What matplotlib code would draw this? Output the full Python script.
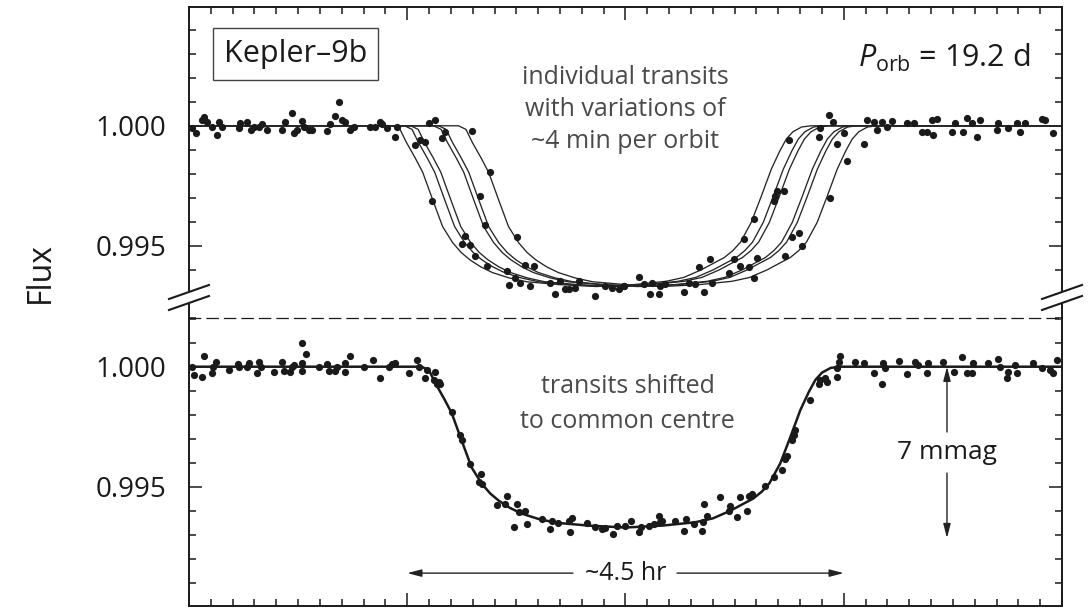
import matplotlib.pyplot as plt
import numpy as np
from matplotlib.ticker import MultipleLocator, FixedLocator, FormatStrFormatter
from matplotlib.patches import Polygon
from matplotlib.lines import Line2D

plt.rcParams['font.family'] = ['Open Sans', 'DejaVu Sans']
plt.rcParams['mathtext.fontset'] = 'custom'
plt.rcParams['mathtext.rm'] = 'Open Sans'
plt.rcParams['mathtext.it'] = 'Open Sans:italic'

# transit model, time from mid-transit in days
fit_x = [-0.25, -0.0934, -0.0900, -0.0871, -0.0830, -0.0796, -0.0751, -0.0705, -0.0659,
         -0.0620, -0.0581, -0.0530, -0.0476, -0.0400, -0.0320, -0.0169, 0.0, 0.0169,
         0.0320, 0.0400, 0.0481, 0.0530, 0.0586, 0.0625, 0.0660, 0.0709, 0.0755,
         0.0801, 0.0840, 0.0870, 0.0900, 0.0940, 0.0984, 0.25]
fit_flux = [1.0, 1.0, 0.99985, 0.99931, 0.99865, 0.99806, 0.99693, 0.99580, 0.99513,
            0.99472, 0.99442, 0.99412, 0.99388, 0.99366, 0.99350, 0.99338, 0.99330, 0.99338,
            0.99352, 0.99368, 0.99400, 0.99424, 0.99451, 0.99480, 0.99515, 0.99597, 0.99706,
            0.99819, 0.99895, 0.99945, 0.99975, 0.99995, 1.0, 1.0]

# timing offsets of the individual transits (d)
transit_shifts = [-0.0133, -0.0078, -0.0050, 0.0055, 0.0078, 0.0169]

# individual transits, unshifted
top_x = [-0.1985, -0.1970, -0.1939, -0.1931, -0.1916, -0.1893, -0.1870, -0.1863, -0.1847,
         -0.1771, -0.1764, -0.1733, -0.1718, -0.1703, -0.1680, -0.1664, -0.1641, -0.1573,
         -0.1558, -0.1527, -0.1519, -0.1504, -0.1481, -0.1474, -0.1451, -0.1436, -0.1367,
         -0.1352, -0.1329, -0.1314, -0.1298, -0.1283, -0.1260, -0.1245, -0.1169, -0.1146,
         -0.1123, -0.1115, -0.1092, -0.1054, -0.1047, -0.0963, -0.0940, -0.0917, -0.0902,
         -0.0886, -0.0871, -0.0840, -0.0825, -0.0749, -0.0734, -0.0711, -0.0703, -0.0688,
         -0.0665, -0.0642, -0.0635, -0.0619, -0.0543, -0.0535, -0.0505, -0.0497, -0.0482,
         -0.0459, -0.0436, -0.0421, -0.0345, -0.0322, -0.0299, -0.0276, -0.0261, -0.0230,
         -0.0215, -0.0139, -0.0093, -0.0063, -0.0032, -0.0009,
         -0.0008, 0.0061, 0.0084, 0.0114, 0.0122, 0.0153, 0.0160, 0.0183, 0.0267, 0.0290,
         0.0320, 0.0336, 0.0359, 0.0389, 0.0397, 0.0473, 0.0496, 0.0526, 0.0542, 0.0564,
         0.0587, 0.0587, 0.0603, 0.0679, 0.0686, 0.0694, 0.0725, 0.0732, 0.0748, 0.0763,
         0.0793, 0.0809, 0.0885, 0.0892, 0.0931, 0.0938, 0.0953, 0.0969, 0.0999, 0.1014,
         0.1091, 0.1106, 0.1137, 0.1152, 0.1175, 0.1198, 0.1220, 0.1289, 0.1320, 0.1358,
         0.1381, 0.1404, 0.1411, 0.1426, 0.1495, 0.1510, 0.1548, 0.1564, 0.1587, 0.1609,
         0.1625, 0.1701, 0.1709, 0.1754, 0.1793, 0.1808, 0.1831, 0.1907, 0.1922, 0.1960]
top_flux = [0.99989, 0.99968, 1.00024, 1.00038, 1.00017, 0.99996, 0.99960, 1.00014, 0.99993,
            0.99989, 1.00010, 1.00017, 0.99982, 0.99993, 0.99993, 1.00007, 0.99984, 0.99984,
            1.00014, 1.00052, 0.99970, 0.99984, 1.00021, 0.99996, 0.99982, 0.99982, 0.99979,
            1.00007, 1.00041, 1.00099, 1.00024, 1.00017, 0.99982, 0.99996, 0.99993, 0.99996,
            1.00014, 1.00006, 0.99989, 0.99953, 0.99996, 0.99918, 0.99942, 0.99932, 1.00010,
            0.99685, 1.00024, 0.99949, 0.99975, 0.99508, 0.99541, 0.99504, 0.99979, 0.99456,
            0.99706, 0.99586, 0.99417, 0.99808, 0.99393, 0.99335, 0.99367, 0.99537, 0.99346,
            0.99419, 0.99332, 0.99414, 0.99346, 0.99297, 0.99353, 0.99318, 0.99318, 0.99325,
            0.99353, 0.99292, 0.99332, 0.99325, 0.99321, 0.99332,
            0.99332, 0.99370, 0.99339, 0.99297, 0.99346, 0.99297, 0.99332, 0.99339, 0.99306, 0.99346,
            0.99339, 0.99412, 0.99306, 0.99445, 0.99346, 0.99388, 0.99445, 0.99417, 0.99530, 0.99410,
            0.99367, 0.99610, 0.99448, 0.99685, 0.99706, 0.99727, 0.99730, 0.99459, 0.99939, 0.99537,
            0.99555, 0.99497, 0.99953, 0.99989, 1.00045, 0.99699, 1.00014, 0.99925, 0.99968, 0.99855,
            0.99925, 1.00024, 1.00017, 0.99982, 1.00017, 0.99996, 1.00021, 1.00010, 1.00010, 0.99975,
            0.99975, 1.00024, 0.99960, 1.00027, 0.99975, 1.00010, 0.99975, 1.00031, 1.00010, 0.99953,
            1.00024, 0.99982, 1.00010, 0.99989, 1.00010, 0.99975, 1.00010, 1.00027, 1.00024, 0.99968]

# same transits shifted to a common centre
bottom_x = [-0.1985, -0.1977, -0.1939, -0.1931, -0.1893, -0.1890, -0.1878, -0.1817, -0.1774,
            -0.1771, -0.1733, -0.1725, -0.1687, -0.1680, -0.1672, -0.1611, -0.1573, -0.1565,
            -0.1535, -0.1527, -0.1519, -0.1481, -0.1466, -0.1481, -0.1481, -0.1405, -0.1367,
            -0.1359, -0.1329, -0.1321, -0.1283, -0.1283, -0.1260, -0.1199, -0.1158, -0.1123,
            -0.1085, -0.1069, -0.1054, -0.0993, -0.0955, -0.0947, -0.0917, -0.0909, -0.0879,
            -0.0871, -0.0863, -0.0856, -0.0848, -0.0795, -0.0757, -0.0749, -0.0711, -0.0673,
            -0.0661, -0.0658, -0.0589, -0.0551, -0.0543, -0.0497, -0.0490, -0.0459, -0.0452,
            -0.0513, -0.0383, -0.0345, -0.0337, -0.0307, -0.0261, -0.0253, -0.0246, -0.0177,
            -0.0139, -0.0108, -0.0093, -0.0055, -0.0040, -0.0002,
            0.0023, 0.0061, 0.0069, 0.0107, 0.0130, 0.0153, 0.0160, 0.0168, 0.0229, 0.0267,
            0.0275, 0.0313, 0.0351, 0.0355, 0.0359, 0.0374, 0.0435, 0.0473, 0.0481, 0.0511,
            0.0526, 0.0557, 0.0564, 0.0580, 0.0641, 0.0679, 0.0717, 0.0732, 0.0740, 0.0763,
            0.0770, 0.0778, 0.0847, 0.0885, 0.0892, 0.0915, 0.0923, 0.0969, 0.0969, 0.0976,
            0.0984, 0.1053, 0.1091, 0.1137, 0.1175, 0.1182, 0.1190, 0.1251, 0.1289, 0.1327,
            0.1342, 0.1381, 0.1388, 0.1457, 0.1503, 0.1541, 0.1564, 0.1587, 0.1594, 0.1663,
            0.1709, 0.1716, 0.1747, 0.1754, 0.1785, 0.1793, 0.1869, 0.1907, 0.1945, 0.1960, 0.1976]
bottom_flux = [0.99997, 0.99965, 0.99958, 1.00045, 0.99972, 1.00000, 1.00021, 0.99986, 1.00011,
               0.99997, 0.99997, 1.00014, 0.99972, 1.00018, 1.00000, 0.99979, 1.00021, 0.99983,
               0.99979, 1.00000, 1.00007, 1.00100, 1.00053, 1.00014, 0.99983, 1.00000, 1.00011,
               0.99983, 0.99983, 0.99997, 0.99979, 1.00014, 1.00045, 0.99997, 1.00028, 0.99955,
               0.99997, 1.00011, 1.00014, 0.99975, 1.00028, 0.99997, 0.99954, 0.99986, 0.99944,
               0.99979, 0.99930, 0.99937, 0.99930, 0.99812, 0.99714, 0.99693, 0.99596, 0.99519,
               0.99551, 0.99512, 0.99425, 0.99428, 0.99463, 0.99428, 0.99393, 0.99400, 0.99344,
               0.99331, 0.99365, 0.99324, 0.99356, 0.99347, 0.99356, 0.99310, 0.99370, 0.99347,
               0.99331, 0.99324, 0.99328, 0.99305, 0.99338, 0.99338,
               0.99356, 0.99310, 0.99331, 0.99338, 0.99344, 0.99379, 0.99351, 0.99358, 0.99356, 0.99317,
               0.99365, 0.99344, 0.99317, 0.99351, 0.99428, 0.99379, 0.99456, 0.99400, 0.99421, 0.99372,
               0.99456, 0.99400, 0.99463, 0.99470, 0.99505, 0.99540, 0.99568, 0.99616, 0.99630, 0.99693,
               0.99714, 0.99735, 0.99861, 0.99930, 0.99944, 0.99951, 0.99937, 0.99958, 0.99993, 1.00021,
               1.00045, 1.00021, 1.00014, 0.99972, 0.99930, 1.00014, 0.99993, 1.00025, 0.99969, 1.00021,
               1.00007, 0.99972, 1.00014, 1.00021, 0.99979, 1.00042, 0.99972, 0.99972, 1.00014, 1.00014,
               1.00031, 1.00000, 0.99951, 0.99979, 1.00007, 0.99972, 1.00014, 0.99993, 0.99986, 0.99972, 1.00028]

top_note = ['individual transits', 'with variations of', '~4 min per orbit']
top_note_y = [1.00174, 1.00040, 0.99907]
bottom_note = ['transits shifted', 'to common centre']
bottom_note_y = [0.99890, 0.99744]

ink = '#1a1a1a'
grey_txt = '#4a4a4a'

fig = plt.figure(figsize=(10.88, 6.08), dpi=100)
ax1 = fig.add_axes([0.1737, 0.4770, 0.8024, 0.5115])
ax2 = fig.add_axes([0.1737, 0.0033, 0.8024, 0.4737])

for dt in transit_shifts:
    ax1.plot(np.array(fit_x) + dt, fit_flux, color='#262626', lw=0.95)
ax1.plot(top_x, top_flux, 'o', color=ink, ms=5.2, mew=0)

ax2.plot(fit_x, fit_flux, color=ink, lw=1.8)
ax2.plot(bottom_x, bottom_flux, 'o', color=ink, ms=5.2, mew=0)

for ax in (ax1, ax2):
    ax.set_xlim(-0.2, 0.2)
    ax.xaxis.set_major_locator(MultipleLocator(0.1))
    ax.xaxis.set_minor_locator(MultipleLocator(0.01))
    ax.yaxis.set_major_locator(FixedLocator([0.995, 1.000]))
    ax.yaxis.set_minor_locator(MultipleLocator(0.001))
    ax.yaxis.set_major_formatter(FormatStrFormatter('%.3f'))
    ax.tick_params(which='both', direction='in', right=True, width=1.1,
                   labelsize=20, pad=16.5, colors=ink)
    ax.tick_params(which='major', length=9.5)
    ax.tick_params(which='minor', length=5)
    for s in ax.spines.values():
        s.set_linewidth(1.4)
        s.set_color(ink)

ax1.set_ylim(0.99199, 1.00495)
ax1.tick_params(axis='x', which='both', top=True, bottom=False, labelbottom=False)
ax1.spines['bottom'].set_visible(False)

ax2.set_ylim(0.99003, 1.00203)
ax2.tick_params(axis='x', which='both', top=False, bottom=True, labelbottom=False)
ax2.spines['top'].set_linestyle((0, (9, 5)))
ax2.spines['top'].set_linewidth(0.9)

# axis break marks on both sides
for xs in (0.0, 1.0):
    dx, dy = 0.0229, 0.0225
    y_hi, y_lo = 0.0836, 0.0482
    gap = Polygon([(xs - dx, y_hi - dy), (xs + dx, y_hi + dy),
                   (xs + dx, y_lo + dy), (xs - dx, y_lo - dy)],
                  closed=True, transform=ax1.transAxes, facecolor='white',
                  edgecolor='none', clip_on=False, zorder=5)
    ax1.add_patch(gap)
    for yc in (y_hi, y_lo):
        ax1.add_line(Line2D([xs - dx, xs + dx], [yc - dy, yc + dy], transform=ax1.transAxes,
                            color=ink, lw=1.5, clip_on=False, zorder=6))

# labels
fig.text(0.0372, 0.551, 'Flux', rotation=90, ha='center', va='center', fontsize=23, color=ink)

ax1.text(-0.1512, 1.00299, 'Kepler\u20139b', ha='center', va='center', fontsize=22, color=ink,
         bbox=dict(boxstyle='square,pad=0.36', facecolor='white', edgecolor='#444444', lw=1.0))
ax1.text(0.1853, 1.00282, r'$P_{\mathrm{orb}}$ = 19.2 d', ha='right', va='center',
         fontsize=22, color=ink)
for line, y in zip(top_note, top_note_y):
    ax1.text(0.0, y, line, ha='center', va='baseline', fontsize=18, color=grey_txt)
for line, y in zip(bottom_note, bottom_note_y):
    ax2.text(0.001, y, line, ha='center', va='baseline', fontsize=18, color=grey_txt)

# depth arrow
arrow = dict(arrowstyle='-|>,head_length=0.85,head_width=0.22', color='#222222', lw=1.0,
             shrinkA=0, shrinkB=0)
ax2.text(0.1473, 0.99644, '7 mmag', ha='center', va='center', fontsize=19, color=ink)
ax2.annotate('', xy=(0.1473, 1.000), xytext=(0.1473, 0.99728), arrowprops=arrow)
ax2.annotate('', xy=(0.1473, 0.99286), xytext=(0.1473, 0.99557), arrowprops=arrow)

# duration arrow
ax2.text(0.0, 0.99140, '~4.5 hr', ha='center', va='center', fontsize=18, color=ink)
ax2.annotate('', xy=(-0.1, 0.99140), xytext=(-0.0241, 0.99140), arrowprops=arrow)
ax2.annotate('', xy=(0.1, 0.99140), xytext=(0.0236, 0.99140), arrowprops=arrow)

fig.savefig('out.png', dpi=100)
